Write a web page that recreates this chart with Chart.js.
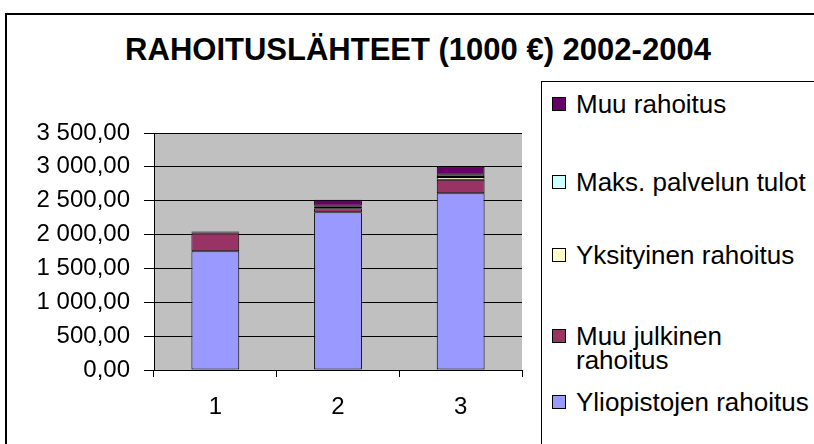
<!DOCTYPE html>
<html>
<head>
<meta charset="utf-8">
<script src="https://cdn.jsdelivr.net/npm/chart.js@4.4.0/dist/chart.umd.min.js"></script>
<style>
  html, body { margin: 0; padding: 0; background: #fff; overflow: hidden; }
  body { width: 814px; height: 444px; position: relative; font-family: "Liberation Sans", Arial, sans-serif; }
  #frame { position: absolute; left: 5px; top: 13px; width: 900px; height: 500px; border: 2px solid #000; }
  #title { position: absolute; left: 0; width: 836px; top: 32px; text-align: center; font-weight: bold; font-size: 31px; line-height: 36px; color: #000; }
  #wrap { position: absolute; left: 0; top: 0; width: 814px; height: 444px; }
  #legend { position: absolute; left: 541px; top: 81px; width: 400px; height: 400px; border: 1.5px solid #000; background: #fff; }
  .item { position: absolute; left: 10px; font-size: 26px; line-height: 24px; color: #000; }
  .box { position: absolute; left: 0; top: 5px; width: 12px; height: 12px; border: 1px solid #000; }
  .txt { position: absolute; left: 24px; top: 0; white-space: nowrap; }
</style>
</head>
<body>
<div id="frame"></div>
<div id="title">RAHOITUSLÄHTEET (1000 €) 2002-2004</div>
<div id="wrap"><canvas id="chart" width="814" height="444"></canvas></div>
<div id="legend"></div>
<script>
// categories (years shown as 1, 2, 3)
var labels = ['1', '2', '3'];

// series, bottom to top of each stack
var yliopistojen = [1755, 2330, 2610];
var muuJulkinen = [265, 60, 200];
var yksityinen = [5, 20, 40];
var maksPalvelu = [5, 15, 35];
var muuRahoitus = [15, 90, 115];

var seriesNames = ['Yliopistojen rahoitus', 'Muu julkinen rahoitus', 'Yksityinen rahoitus', 'Maks. palvelun tulot', 'Muu rahoitus'];
var seriesColors = ['#9999FF', '#993366', '#FFFFCC', '#CCFFFF', '#660066'];
var seriesData = [yliopistojen, muuJulkinen, yksityinen, maksPalvelu, muuRahoitus];

var yTicks = [0, 500, 1000, 1500, 2000, 2500, 3000, 3500];

function fiNumber(v) {
  var s = v.toFixed(2).split('.');
  var whole = s[0].replace(/\B(?=(\d{3})+(?!\d))/g, ' ');
  return whole + ',' + s[1];
}

var plotBg = {
  id: 'plotBg',
  beforeDraw: function (chart) {
    var a = chart.chartArea, ctx = chart.ctx;
    ctx.save();
    ctx.fillStyle = '#C0C0C0';
    ctx.fillRect(a.left, a.top, a.right - a.left, a.bottom - a.top);
    ctx.restore();
  }
};

var datasets = seriesData.map(function (d, i) {
  return {
    label: seriesNames[i],
    data: d,
    backgroundColor: seriesColors[i],
    borderColor: '#000',
    borderWidth: 1,
    borderSkipped: false,
    barPercentage: 0.39,
    categoryPercentage: 1
  };
});

var ctx = document.getElementById('chart').getContext('2d');
var myChart = new Chart(ctx, {
  type: 'bar',
  data: { labels: labels, datasets: datasets },
  options: {
    responsive: false,
    animation: false,
    layout: { padding: { top: 133, right: 292, bottom: 0, left: 0 } },
    plugins: { legend: { display: false }, tooltip: { enabled: false } },
    scales: {
      x: {
        stacked: true,
        grid: { display: true, drawOnChartArea: false, drawTicks: true, tickLength: 7, color: '#000', offset: true },
        border: { color: '#000', width: 1 },
        ticks: { color: '#000', padding: 16, font: { family: 'Liberation Sans', size: 24 } },
        afterFit: function (scale) { scale.height = 74; }
      },
      y: {
        stacked: true,
        min: 0,
        max: 3500,
        afterBuildTicks: function (scale) {
          scale.ticks = yTicks.map(function (v) { return { value: v }; });
        },
        grid: { color: '#000', tickLength: 10, lineWidth: 1 },
        border: { color: '#000', width: 1 },
        ticks: {
          color: '#000',
          padding: 14,
          font: { family: 'Liberation Sans', size: 24 },
          callback: function (v) { return fiNumber(v); }
        },
        afterFit: function (scale) { scale.width = 154; }
      }
    }
  },
  plugins: [plotBg]
});

// legend, drawn in the same reversed order as the stack
var legendTops = [91, 169, 242, 323, 389];
var legend = document.getElementById('legend');
for (var k = seriesNames.length - 1, n = 0; k >= 0; k--, n++) {
  var item = document.createElement('div');
  item.className = 'item';
  item.style.top = (legendTops[n] - 81) + 'px';
  var box = document.createElement('div');
  box.className = 'box';
  box.style.background = seriesColors[k];
  var txt = document.createElement('div');
  txt.className = 'txt';
  txt.innerHTML = k === 1 ? 'Muu julkinen<br>rahoitus' : seriesNames[k];
  item.appendChild(box);
  item.appendChild(txt);
  legend.appendChild(item);
}
</script>
</body>
</html>
